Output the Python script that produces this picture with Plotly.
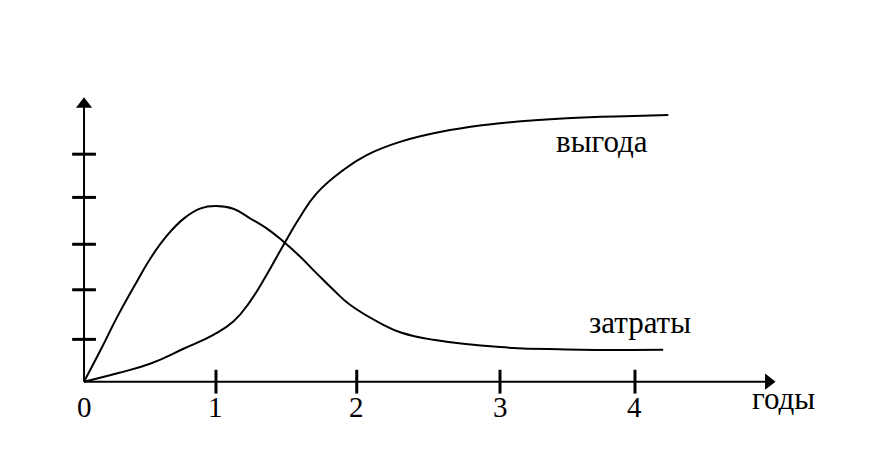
import plotly.graph_objects as go

# годы -> затраты (cost curve)
cost_years = [0, 0.121, 0.242, 0.363, 0.484, 0.605, 0.726, 0.847, 0.958, 1.084,
              1.205, 1.326, 1.447, 1.568, 1.689, 1.810, 1.931, 2.173, 2.30,
              2.536, 3.02, 3.504, 4.205]
cost = [0, 0.70, 1.43, 2.09, 2.72, 3.22, 3.59, 3.81, 3.86, 3.80,
        3.59, 3.37, 3.08, 2.75, 2.38, 2.02, 1.69, 1.25, 1.08,
        0.92, 0.76, 0.71, 0.70]

# годы -> выгода (benefit curve)
benefit_years = [0, 0.242, 0.484, 0.726, 0.939, 1.084, 1.205, 1.326, 1.447, 1.568,
                 1.689, 1.882, 2.052, 2.294, 2.657, 3.02, 3.504, 3.988, 4.242]
benefit = [0, 0.185, 0.40, 0.73, 1.03, 1.32, 1.76, 2.35, 3.00, 3.62,
           4.14, 4.65, 4.98, 5.27, 5.53, 5.68, 5.79, 5.84, 5.86]

# hand-drawn tick positions
x_ticks = [0.958, 1.98, 3.02, 4.0]
x_tick_labels = ["1", "2", "3", "4"]
y_ticks = [0.93, 2.02, 3.02, 4.05, 5.0]

x_axis_end = 4.97
y_axis_end = 6.10

FONT = "Liberation Serif"
BLACK = "#000000"


def add_label(fig, x, y, text, size=31):
    fig.add_annotation(x=x, y=y, text=text, showarrow=False,
                       xanchor="center", yanchor="middle",
                       font=dict(family=FONT, size=size, color=BLACK))


fig = go.Figure()

# axes
fig.add_trace(go.Scatter(x=[0, x_axis_end], y=[0, 0], mode="lines",
                         line=dict(color=BLACK, width=2), hoverinfo="skip"))
fig.add_trace(go.Scatter(x=[0, 0], y=[0, y_axis_end], mode="lines",
                         line=dict(color=BLACK, width=2), hoverinfo="skip"))
fig.add_trace(go.Scatter(x=[x_axis_end], y=[0], mode="markers",
                         marker=dict(symbol="triangle-right", size=14, color=BLACK),
                         hoverinfo="skip"))
fig.add_trace(go.Scatter(x=[0], y=[y_axis_end], mode="markers",
                         marker=dict(symbol="triangle-up", size=14, color=BLACK),
                         hoverinfo="skip"))

# tick marks
fig.add_trace(go.Scatter(x=x_ticks, y=[0] * len(x_ticks), mode="markers",
                         marker=dict(symbol="line-ns", size=17,
                                     line=dict(color=BLACK, width=3)),
                         hoverinfo="skip"))
fig.add_trace(go.Scatter(x=[0] * len(y_ticks), y=y_ticks, mode="markers",
                         marker=dict(symbol="line-ew", size=17,
                                     line=dict(color=BLACK, width=3)),
                         hoverinfo="skip"))

# curves
fig.add_trace(go.Scatter(x=cost_years, y=cost, mode="lines",
                         line=dict(color=BLACK, width=2, shape="spline", smoothing=1.3),
                         name="затраты"))
fig.add_trace(go.Scatter(x=benefit_years, y=benefit, mode="lines",
                         line=dict(color=BLACK, width=2, shape="spline", smoothing=1.3),
                         name="выгода"))

# labels
add_label(fig, 0, -0.55, "0", size=29)
for xv, lab in zip(x_ticks, x_tick_labels):
    add_label(fig, xv, -0.55, lab, size=29)
add_label(fig, 5.08, -0.38, "годы")
add_label(fig, 3.764, 5.27, "выгода")
add_label(fig, 4.036, 1.29, "затраты")

# page body has an 8px margin, so the figure is 8px smaller and ranges start there
fig.update_layout(
    width=888, height=466,
    margin=dict(l=0, r=0, t=0, b=0),
    paper_bgcolor="white", plot_bgcolor="white",
    showlegend=False,
    xaxis=dict(range=[-0.552, 5.895], visible=False, fixedrange=True),
    yaxis=dict(range=[-2.029, 8.213], visible=False, fixedrange=True),
)

fig.write_html("out.html")
